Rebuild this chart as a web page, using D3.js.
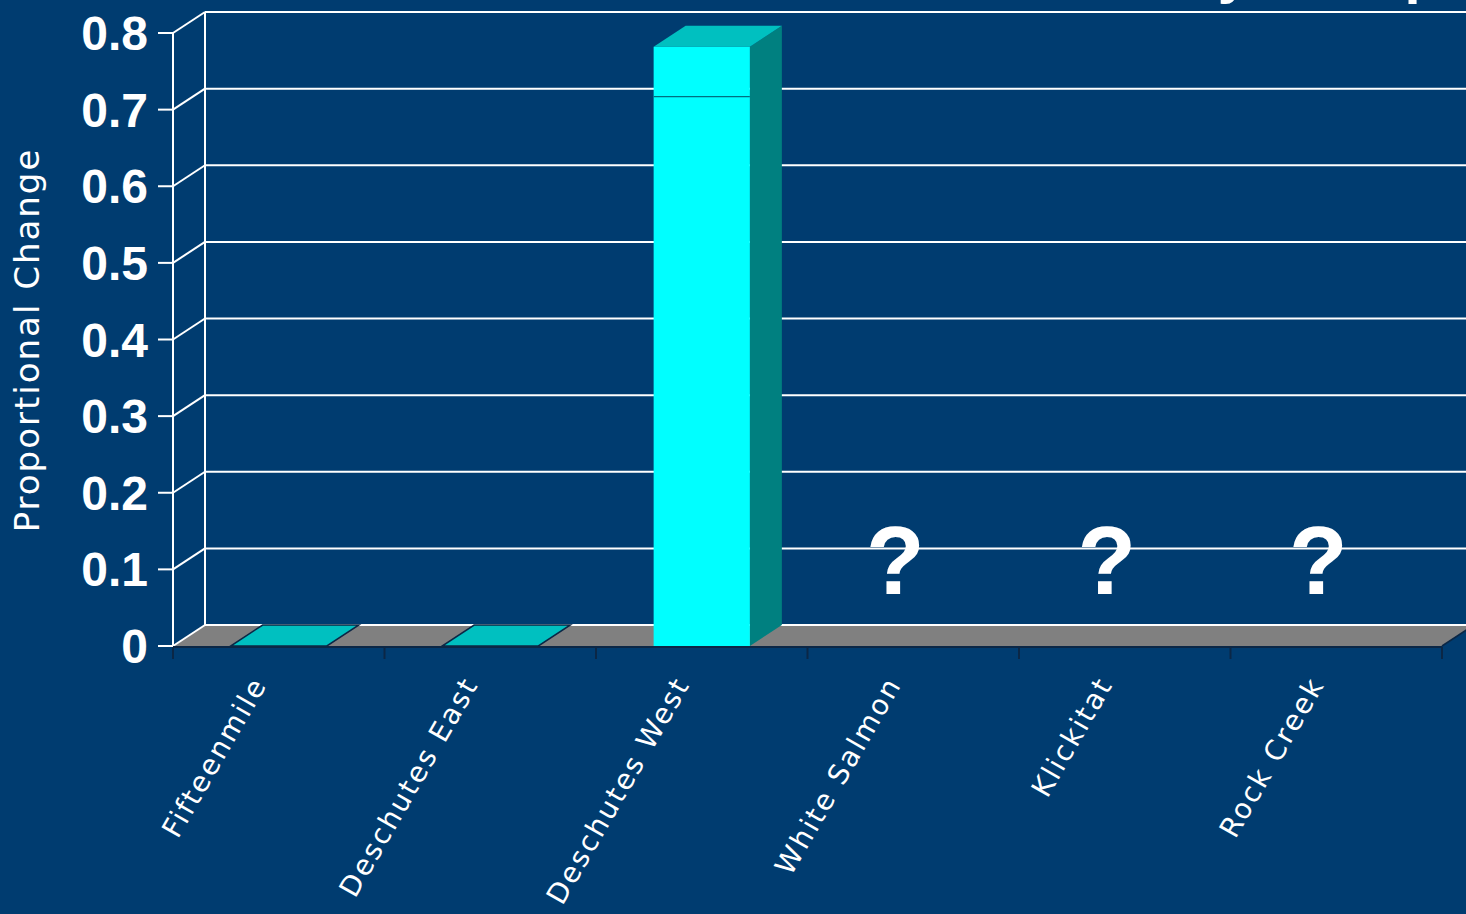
<!DOCTYPE html>
<html>
<head>
<meta charset="utf-8">
<script src="https://cdn.jsdelivr.net/npm/d3@7"></script>
<style>
  html, body { margin: 0; padding: 0; background: #003C70; overflow: hidden; }
  svg { display: block; }
</style>
</head>
<body>
<svg id="chart" width="1466" height="914"></svg>
<script>
// ---- data ----
const categories = ["Fifteenmile", "Deschutes East", "Deschutes West", "White Salmon", "Klickitat", "Rock Creek"];
const baseValues = [0, 0, 0.717, null, null, null];      // lower stacked segment
const upperValues = [0, 0, 0.065, null, null, null];     // upper stacked segment
const yTicks = [0, 0.1, 0.2, 0.3, 0.4, 0.5, 0.6, 0.7, 0.8];
const yTickLabels = ["0", "0.1", "0.2", "0.3", "0.4", "0.5", "0.6", "0.7", "0.8"];
const yTitle = "Proportional Change";
const titleFragment = "by Group";
const unknownMark = "?";

(function () {
// ---- layout ----
const W = 1466, H = 914;
const pLeft = 173, pRight = 1442, pTop = 33, pBottom = 646;
const DX = 32, DY = -21;                 // 3D depth offset
const bg = "#003C70";
const dark = "#0B2746";

const svg = d3.select("#chart");
svg.append("rect").attr("width", W).attr("height", H).attr("fill", bg);

const x = d3.scaleBand().domain(categories).range([pLeft, pRight])
  .paddingInner(0.545).paddingOuter(0.2725);
const y = d3.scaleLinear().domain([0, 0.8]).range([pBottom, pTop]);
const step = x.step();

// title fragment (cut off at top, as in the reference)
svg.append("text").attr("x", 1440).attr("y", -8)
  .attr("text-anchor", "end")
  .attr("font-family", "Liberation Sans, Arial, sans-serif")
  .attr("font-weight", "bold").attr("font-size", 58)
  .attr("fill", "#fff").text(titleFragment);

// back wall gridlines
svg.append("g").selectAll("line").data(yTicks).join("line")
  .attr("x1", pLeft + DX).attr("x2", W)
  .attr("y1", d => y(d) + DY).attr("y2", d => y(d) + DY)
  .attr("stroke", "#fff").attr("stroke-width", 2);
svg.append("line").attr("x1", pLeft + DX).attr("x2", pLeft + DX)
  .attr("y1", y(0.8) + DY).attr("y2", y(0) + DY)
  .attr("stroke", "#fff").attr("stroke-width", 2);

// floor
svg.append("path")
  .attr("d", `M${pLeft},${y(0)} L${pRight},${y(0)} L${pRight + DX},${y(0) + DY} L${pLeft + DX},${y(0) + DY} Z`)
  .attr("fill", "#808080");
svg.append("line").attr("x1", pLeft + DX).attr("x2", W)
  .attr("y1", y(0) + DY).attr("y2", y(0) + DY)
  .attr("stroke", "#fff").attr("stroke-width", 2);
svg.append("line").attr("x1", pRight).attr("x2", pRight + DX)
  .attr("y1", y(0)).attr("y2", y(0) + DY)
  .attr("stroke", dark).attr("stroke-width", 1.5);

// front axis with diagonal tick connectors
const yAxisG = svg.append("g");
yAxisG.append("line").attr("x1", pLeft).attr("x2", pLeft)
  .attr("y1", y(0.8)).attr("y2", y(0))
  .attr("stroke", "#fff").attr("stroke-width", 2);
yAxisG.selectAll(".tk").data(yTicks).join("line").attr("class", "tk")
  .attr("x1", pLeft - 15).attr("x2", pLeft)
  .attr("y1", d => y(d)).attr("y2", d => y(d))
  .attr("stroke", "#fff").attr("stroke-width", 2);
yAxisG.selectAll(".dg").data(yTicks).join("line").attr("class", "dg")
  .attr("x1", pLeft).attr("x2", pLeft + DX)
  .attr("y1", d => y(d)).attr("y2", d => y(d) + DY)
  .attr("stroke", "#fff").attr("stroke-width", 2);
yAxisG.selectAll("text").data(yTicks).join("text")
  .attr("x", 148).attr("y", d => y(d) + 17)
  .attr("text-anchor", "end")
  .attr("font-family", "Liberation Sans, Arial, sans-serif")
  .attr("font-weight", "bold").attr("font-size", 48)
  .attr("fill", "#fff")
  .text((d, i) => yTickLabels[i]);

// y title
svg.append("text")
  .attr("transform", `translate(39,340) rotate(-90)`)
  .attr("text-anchor", "middle")
  .attr("font-family", "DejaVu Sans, sans-serif")
  .attr("font-size", 34)
  .attr("letter-spacing", 2)
  .attr("fill", "#fff").text(yTitle);

// bars
const data = categories.map((c, i) => ({ c, b: baseValues[i], u: upperValues[i] }));
const barsG = svg.append("g");
data.forEach(d => {
  if (d.b === null) return;
  const x0 = x(d.c), x1 = x(d.c) + x.bandwidth();
  const total = d.b + d.u;
  if (total <= 0) {
    barsG.append("path")
      .attr("d", `M${x0},${y(0)} L${x1},${y(0)} L${x1 + DX},${y(0) + DY} L${x0 + DX},${y(0) + DY} Z`)
      .attr("fill", "#00C0C0").attr("stroke", dark).attr("stroke-width", 1.5);
    return;
  }
  const yt = y(total), y0 = y(0);
  barsG.append("path")
    .attr("d", `M${x1},${yt} L${x1 + DX},${yt + DY} L${x1 + DX},${y0 + DY} L${x1},${y0} Z`)
    .attr("fill", "#008080");
  barsG.append("path")
    .attr("d", `M${x0},${yt} L${x1},${yt} L${x1 + DX},${yt + DY} L${x0 + DX},${yt + DY} Z`)
    .attr("fill", "#00C0C0");
  barsG.append("rect").attr("x", x0).attr("y", yt)
    .attr("width", x.bandwidth()).attr("height", y0 - yt)
    .attr("fill", "#00FFFF");
  barsG.append("line").attr("x1", x0).attr("x2", x1)
    .attr("y1", y(d.b)).attr("y2", y(d.b))
    .attr("stroke", "#006F80").attr("stroke-width", 1.2);
});

// unknown markers
svg.append("g").selectAll("text").data(data.filter(d => d.b === null)).join("text")
  .attr("x", d => x(d.c) + x.bandwidth() / 2 - 18)
  .attr("y", 594)
  .attr("text-anchor", "middle")
  .attr("font-family", "Liberation Sans, Arial, sans-serif")
  .attr("font-weight", "bold").attr("font-size", 96)
  .attr("fill", "#fff").text(unknownMark);

// category axis (front)
const xAxisG = svg.append("g");
xAxisG.append("line").attr("x1", pLeft).attr("x2", pRight)
  .attr("y1", y(0) + 1).attr("y2", y(0) + 1)
  .attr("stroke", dark).attr("stroke-width", 2);
const bounds = categories.map(c => x(c) - x.paddingInner() * step / 2).concat([pRight]);
xAxisG.selectAll(".xt").data(bounds).join("line").attr("class", "xt")
  .attr("x1", d => d).attr("x2", d => d)
  .attr("y1", y(0) + 1).attr("y2", y(0) + 13)
  .attr("stroke", dark).attr("stroke-width", 2);
xAxisG.selectAll("text").data(categories).join("text")
  .attr("transform", c => `translate(${x(c) + x.bandwidth() / 2 - 11},684) rotate(-60)`)
  .attr("text-anchor", "end")
  .attr("font-family", "DejaVu Sans, sans-serif")
  .attr("font-size", 28)
  .attr("letter-spacing", 2.3)
  .attr("fill", "#fff").text(c => c);
})();
</script>
</body>
</html>
